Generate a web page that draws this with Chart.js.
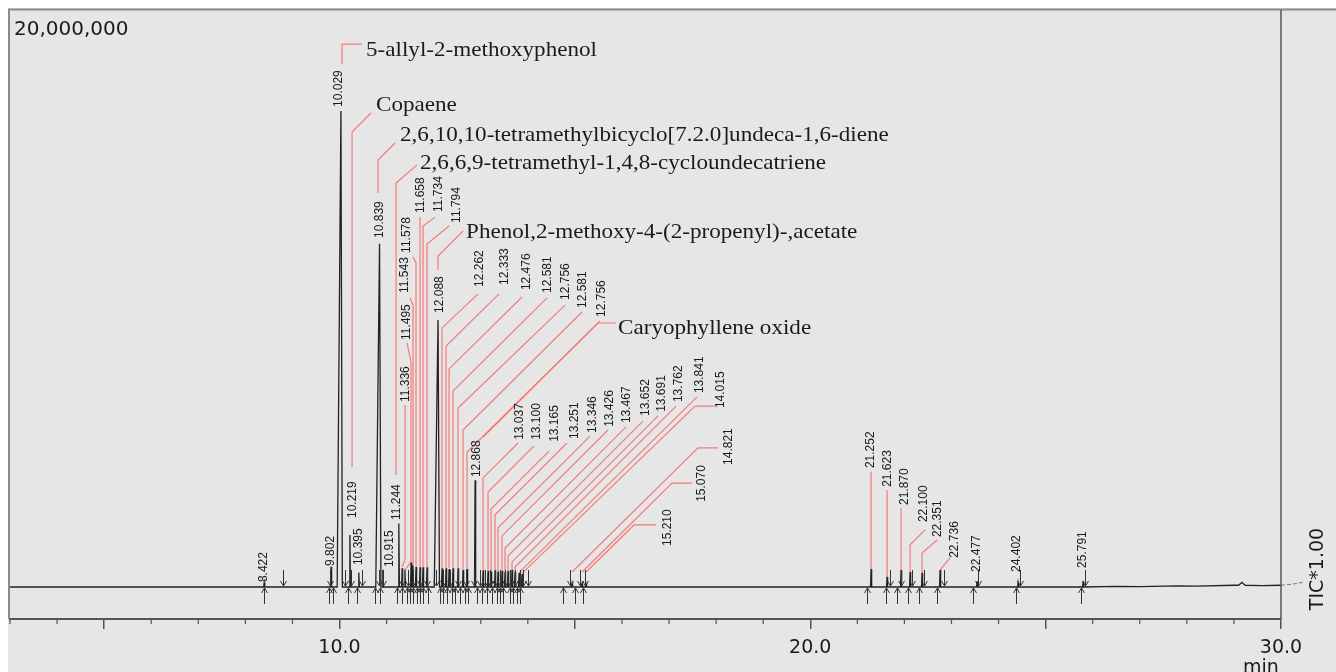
<!DOCTYPE html>
<html><head><meta charset="utf-8">
<script src="https://cdn.jsdelivr.net/npm/chart.js@4.4.1/dist/chart.umd.min.js"></script>
<style>html,body{margin:0;padding:0;background:#fff;}canvas{display:block;}</style>
</head><body>
<canvas id="c" width="1336" height="672"></canvas>
<script>
// ---- data ----
const peakTime = [8.40, 9.82, 10.03, 10.22, 10.41, 10.85, 10.92, 11.26, 11.33, 11.39, 11.52, 11.56, 11.625, 11.71, 11.774, 11.859,
  12.093, 12.178, 12.263, 12.327, 12.411, 12.518, 12.624, 12.709, 12.88, 13.049, 13.155, 13.219, 13.304, 13.367, 13.453, 13.516,
  13.580, 13.665, 13.729, 13.814, 13.877, 14.94, 15.152, 15.237, 21.292, 21.632, 21.929, 22.121, 22.375, 22.758, 23.544, 24.415, 25.796];
const peakHeight = [150000, 700000, 16500000, 1800000, 500000, 11900000, 600000, 2200000, 650000, 600000, 850000, 750000, 700000, 680000, 680000, 680000,
  9250000, 650000, 650000, 620000, 650000, 650000, 600000, 620000, 3700000, 580000, 560000, 540000, 580000, 540000, 560000, 520000,
  560000, 600000, 520000, 480000, 450000, 120000, 100000, 100000, 620000, 350000, 590000, 520000, 490000, 590000, 200000, 150000, 200000];
const baseTime  = [3, 6, 9, 12, 16, 19, 21, 23, 25, 26.5, 27.0, 27.8, 28.2, 29.0, 29.1, 29.17, 29.24, 29.6, 30, 30.25, 30.5];
const baseLevel = [0, 0, 0, 0, 0, 0, 0, 0, 0, 20000, 10000, 40000, 30000, 60000, 60000, 160000, 60000, 50000, 60000, 100000, 170000];
const upMarks = [8.40, 9.78, 9.86, 10.18, 10.37, 10.75, 10.86, 11.22, 11.33, 11.43, 11.50, 11.56, 11.65, 11.71, 11.77, 11.88, 12.14, 12.20,
  12.28, 12.39, 12.45, 12.56, 12.67, 12.73, 12.92, 13.03, 13.13, 13.24, 13.35, 13.41, 13.47, 13.62, 13.69, 13.77, 13.83, 14.75, 15.00, 15.17,
  21.21, 21.61, 21.84, 22.08, 22.31, 22.69, 23.46, 24.37, 25.75];
const downMarks = [8.80, 9.80, 10.12, 10.24, 10.48, 10.84, 10.92, 11.33, 11.46, 11.56, 11.71, 11.86, 12.05, 12.20, 12.35, 12.52, 12.69, 12.86,
  12.99, 13.09, 13.20, 13.30, 13.41, 13.52, 13.62, 13.73, 13.83, 13.90, 14.00, 14.90, 15.11, 15.22, 21.70, 21.93, 22.16, 22.42, 22.84, 23.57, 24.46, 25.84];
const rtText = ['8.422','9.802','10.029','10.219','10.395','10.839','10.915','11.244','11.336','11.495','11.543','11.578','11.658','11.734','11.794',
  '12.088','12.262','12.333','12.476','12.581','12.756','12.581','12.756','12.868','13.037','13.100','13.165','13.251','13.346','13.426','13.467',
  '13.652','13.691','13.762','13.841','14.015','14.821','15.070','15.210','21.252','21.623','21.870','22.100','22.351','22.736','22.477','24.402','25.791'];
const compoundNames = ['5-allyl-2-methoxyphenol', 'Copaene', '2,6,10,10-tetramethylbicyclo[7.2.0]undeca-1,6-diene',
  '2,6,6,9-tetramethyl-1,4,8-cycloundecatriene', 'Phenol,2-methoxy-4-(2-propenyl)-,acetate', 'Caryophyllene oxide'];
const xTickValues = [10, 20, 30];
const xTickText = ['10.0', '20.0', '30.0'];
const fullScaleText = '20,000,000';
const traceName = 'TIC*1.00';
const xUnit = 'min';

// ---- annotation layout (minutes, millions of counts) ----
const rtPos = [[8.396,0.17],[9.82,0.73],[9.99,16.64],[10.287,2.39],[10.414,0.76],[10.861,12.10],[11.073,0.69],[11.222,2.32],[11.413,6.41],
  [11.434,8.56],[11.392,10.19],[11.434,11.58],[11.732,12.96],[12.114,13.00],[12.497,12.62],[12.135,9.50],[12.985,10.40],[13.516,10.47],
  [13.984,10.29],[14.430,10.19],[14.812,9.95],[15.173,9.67],[15.577,9.36],[12.921,3.81],[13.835,5.10],[14.196,5.10],[14.578,5.03],
  [15.003,5.13],[15.386,5.34],[15.747,5.55],[16.108,5.68],[16.512,5.93],[16.852,6.07],[17.213,6.41],[17.659,6.72],[18.105,6.20],
  [18.275,4.23],[17.701,2.95],[16.979,1.42],[21.292,4.12],[21.653,3.47],[22.014,2.84],[22.418,2.25],[22.715,1.73],[23.076,1.01],
  [23.544,0.52],[24.394,0.52],[25.796,0.66]];
const rtLead = [null,null,null,null,null,null,null,null,
  [[11.392,6.31],[11.392,0.94],[11.328,0.69]],
  [[11.434,8.46],[11.519,7.80],[11.519,0.87],[11.392,0.59]],
  [[11.498,10.02],[11.562,9.77],[11.562,0.76]],
  [[11.562,11.44],[11.625,11.23],[11.625,0.73]],
  [[11.710,12.82],[11.710,0.69]],
  [[12.029,12.82],[11.774,12.51],[11.774,0.69]],
  [[12.327,12.51],[11.859,11.89],[11.859,0.69]],
  null,
  [[12.943,10.16],[12.178,8.98],[12.178,0.66]],
  [[13.389,10.16],[12.263,8.35],[12.263,0.66]],
  [[13.877,10.05],[12.327,7.56],[12.327,0.66]],
  [[14.409,10.02],[12.411,6.79],[12.411,0.66]],
  [[14.791,9.77],[12.518,6.20],[12.518,0.66]],
  [[15.152,9.53],[12.624,5.44],[12.624,0.62]],
  [[15.534,9.22],[12.709,4.68],[12.709,0.62]],
  null,
  [[13.793,4.99],[13.049,3.78],[13.049,0.59]],
  [[14.132,4.89],[13.155,3.29],[13.155,0.57]],
  [[14.451,4.71],[13.219,2.70],[13.219,0.55]],
  [[14.833,4.99],[13.304,2.50],[13.304,0.59]],
  [[15.322,5.23],[13.367,2.05],[13.367,0.55]],
  [[15.704,5.44],[13.453,1.77],[13.453,0.57]],
  [[16.087,5.55],[13.516,1.35],[13.516,0.53]],
  [[16.448,5.75],[13.580,1.07],[13.580,0.57]],
  [[16.767,5.93],[13.665,0.87],[13.665,0.60]],
  [[17.149,6.27],[13.729,0.69],[13.729,0.53]],
  [[17.595,6.59],[13.814,0.50]],
  [[17.978,6.27],[17.553,6.27],[13.877,0.47]],
  [[18.042,4.82],[17.616,4.82],[14.940,0.52]],
  [[17.489,3.60],[17.064,3.60],[15.152,0.52]],
  [[16.724,2.15],[16.257,2.15],[15.237,0.52]],
  [[21.292,3.99],[21.292,0.62]],
  [[21.632,3.36],[21.632,0.35]],
  [[21.929,2.74],[21.929,0.59]],
  [[22.439,1.98],[22.121,1.46],[22.121,0.52]],
  [[22.694,1.63],[22.375,1.18],[22.375,0.49]],
  [[22.970,1.01],[22.758,0.59]],
  null,null,null];
const compPos = [[10.563,18.41],[10.776,16.50],[11.285,15.46],[11.710,14.49],[12.688,12.10],[15.917,8.77]];
const compLead = [
  [[10.478,18.82],[10.053,18.82],[10.053,18.13]],
  [[10.669,16.43],[10.266,15.77],[10.266,4.16]],
  [[11.179,15.39],[10.818,14.80],[10.818,13.66]],
  [[11.647,14.63],[11.201,14.00],[11.201,3.88]],
  [[12.624,12.34],[12.093,11.47],[12.093,10.99]],
  [[15.874,9.15],[15.492,9.15],[13.049,5.20]]];

// ---- build trace from the peak table ----
const tracePts = [];
peakTime.forEach((t, i) => {
  const h = peakHeight[i], big = h > 5e6;
  tracePts.push({x: t - (big ? 0.08 : 0.012), y: 0});
  tracePts.push({x: t, y: h});
  tracePts.push({x: t + (big ? 0.03 : 0.012), y: 0});
});
baseTime.forEach((t, i) => tracePts.push({x: t, y: baseLevel[i]}));
tracePts.sort((a, b) => a.x - b.x);

const RED = 'rgb(245,122,122)';
const INK = '#1a1a1a';

const annot = {
  id: 'annot',
  beforeDraw(chart) {
    const ctx = chart.ctx;
    ctx.save();
    ctx.fillStyle = '#ffffff';
    ctx.fillRect(0, 0, chart.width, chart.height);
    ctx.fillStyle = '#e6e6e6';
    ctx.fillRect(8, 8, chart.width - 8, chart.height - 8);
    ctx.restore();
  },
  beforeDatasetsDraw(chart) {
    const ctx = chart.ctx, X = chart.scales.x, Y = chart.scales.y;
    const P = p => [X.getPixelForValue(p[0]), Y.getPixelForValue(p[1] * 1e6)];
    ctx.save();
    ctx.strokeStyle = RED; ctx.lineWidth = 1.2;
    const poly = pts => { ctx.beginPath(); pts.forEach((p, i) => { const q = P(p); i ? ctx.lineTo(q[0], q[1]) : ctx.moveTo(q[0], q[1]); }); ctx.stroke(); };
    rtLead.forEach(l => { if (l) poly(l); });
    compLead.forEach(l => poly(l));
    ctx.restore();
  },
  afterDatasetsDraw(chart) {
    const ctx = chart.ctx, X = chart.scales.x, Y = chart.scales.y, a = chart.chartArea;
    ctx.save();
    // trace continuation past the axis end
    ctx.strokeStyle = '#777'; ctx.lineWidth = 1; ctx.setLineDash([4, 2]);
    ctx.beginPath();
    tracePts.filter(p => p.x >= X.max).forEach((p, i) => {
      const x = X.getPixelForValue(p.x), y = Y.getPixelForValue(p.y);
      i ? ctx.lineTo(x, y) : ctx.moveTo(x, y);
    });
    ctx.stroke(); ctx.setLineDash([]);
    // frame
    ctx.strokeStyle = '#8a8a8a'; ctx.lineWidth = 2;
    ctx.beginPath(); ctx.moveTo(8, a.top - 0.5); ctx.lineTo(chart.width, a.top - 0.5); ctx.stroke();
    ctx.beginPath(); ctx.moveTo(a.left - 1, a.top); ctx.lineTo(a.left - 1, a.bottom); ctx.stroke();
    ctx.strokeStyle = '#555'; ctx.lineWidth = 1.5;
    ctx.beginPath(); ctx.moveTo(a.right, a.top); ctx.lineTo(a.right, a.bottom); ctx.stroke();
    // minor ticks
    ctx.lineWidth = 1.2;
    for (let t = Math.ceil(X.min); t <= X.max; t++) {
      if (t % 5 === 0) continue;
      const x = X.getPixelForValue(t);
      ctx.beginPath(); ctx.moveTo(x, a.bottom); ctx.lineTo(x, a.bottom + 5); ctx.stroke();
    }
    // integration arrows
    const y0 = Y.getPixelForValue(0);
    ctx.strokeStyle = '#333'; ctx.lineWidth = 1;
    upMarks.forEach(t => {
      const x = Math.round(X.getPixelForValue(t)) + 0.5;
      ctx.beginPath(); ctx.moveTo(x, y0 + 1); ctx.lineTo(x, y0 + 17);
      ctx.moveTo(x - 3, y0 + 6); ctx.lineTo(x, y0 + 1); ctx.lineTo(x + 3, y0 + 6); ctx.stroke();
    });
    downMarks.forEach(t => {
      const x = Math.round(X.getPixelForValue(t)) + 0.5;
      ctx.beginPath(); ctx.moveTo(x, y0 - 17); ctx.lineTo(x, y0 - 1);
      ctx.moveTo(x - 3, y0 - 6); ctx.lineTo(x, y0 - 1); ctx.lineTo(x + 3, y0 - 6); ctx.stroke();
    });
    // retention time labels
    ctx.fillStyle = INK;
    ctx.font = '12px "Liberation Sans"';
    ctx.textAlign = 'left'; ctx.textBaseline = 'middle';
    rtText.forEach((s, i) => {
      const x = X.getPixelForValue(rtPos[i][0]), y = Y.getPixelForValue(rtPos[i][1] * 1e6);
      ctx.save(); ctx.translate(x, y); ctx.rotate(-Math.PI / 2); ctx.fillText(s, 0, 0); ctx.restore();
    });
    // compound names
    ctx.font = '21px "Liberation Serif"';
    ctx.textBaseline = 'alphabetic';
    compoundNames.forEach((s, i) => {
      const x = X.getPixelForValue(compPos[i][0]), y = Y.getPixelForValue(compPos[i][1] * 1e6);
      ctx.save(); ctx.translate(x, y); ctx.scale(1.1, 1); ctx.fillText(s, 0, 0); ctx.restore();
    });
    // corner texts
    ctx.font = '20px "DejaVu Sans"';
    ctx.fillText(fullScaleText, 14, 35);
    ctx.font = '19px "DejaVu Sans"';
    ctx.textAlign = 'center';
    ctx.fillText(xUnit, 1261, 673);
    ctx.save(); ctx.translate(1318, 569); ctx.rotate(-Math.PI / 2);
    ctx.textBaseline = 'middle'; ctx.fillText(traceName, 0, 0); ctx.restore();
    ctx.restore();
  }
};

new Chart(document.getElementById('c'), {
  type: 'scatter',
  data: { datasets: [{
    data: tracePts, showLine: true, borderColor: '#222', borderWidth: 1.3,
    pointRadius: 0, tension: 0
  }]},
  options: {
    responsive: false, animation: false, devicePixelRatio: 1,
    layout: { padding: { left: 10, top: 10, right: 55, bottom: 0 } },
    plugins: { legend: { display: false }, tooltip: { enabled: false } },
    scales: {
      x: {
        type: 'linear', min: 3, max: 30,
        afterFit: s => { s.height = 53; },
        ticks: {
          stepSize: 1, autoSkip: false, maxRotation: 0, padding: 8,
          font: { family: 'DejaVu Sans', size: 19 }, color: INK,
          callback: v => { const k = xTickValues.indexOf(v); return k >= 0 ? xTickText[k] : ''; }
        },
        grid: {
          drawOnChartArea: false, tickLength: 10, lineWidth: 1.5,
          color: c => (c.tick && c.tick.value % 5 === 0) ? '#555' : 'rgba(0,0,0,0)'
        },
        border: { display: true, color: '#555', width: 2 }
      },
      y: { display: false, min: -1110000, max: 20000000 }
    }
  },
  plugins: [annot]
});
</script>
</body></html>
